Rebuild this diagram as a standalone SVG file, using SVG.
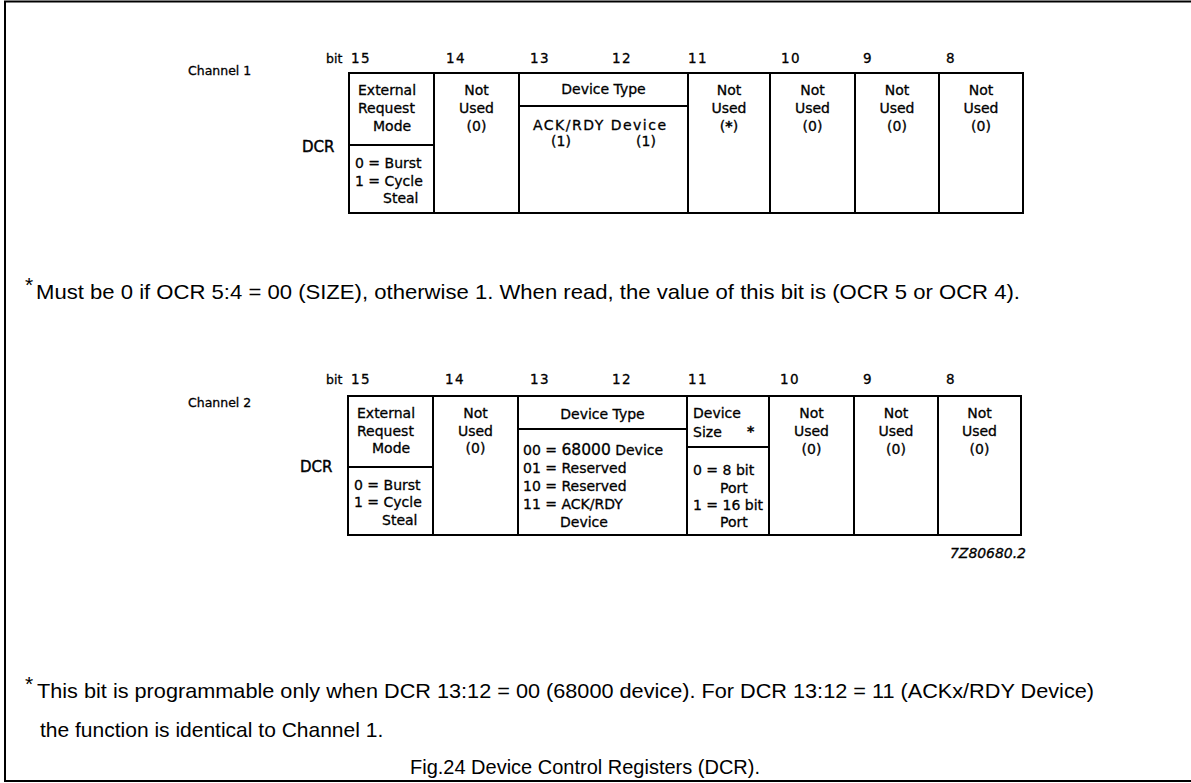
<svg xmlns="http://www.w3.org/2000/svg" width="1191" height="783" viewBox="0 0 1191 783">
<style>
.c{font-family:"DejaVu Sans",sans-serif;font-size:14px;fill:#000;stroke:#000;stroke-width:0.3}
.m{text-anchor:middle}
.bt{font-family:"DejaVu Sans",sans-serif;font-size:13.5px;fill:#000;stroke:#000;stroke-width:0.3;letter-spacing:1.5px}
.lbl{font-family:"DejaVu Sans",sans-serif;font-size:12.5px;fill:#000;stroke:#000;stroke-width:0.3}
.dcr{font-family:"DejaVu Sans",sans-serif;font-size:15px;fill:#000;stroke:#000;stroke-width:0.4}
.fn{font-family:"Liberation Sans",sans-serif;font-size:21px;fill:#000}
.cell{stroke:#000;stroke-width:2;fill:none}
.ln{stroke:#000;stroke-width:2;fill:none}
</style>
<rect width="1191" height="783" fill="#fff"/>
<path class="ln" d="M1192 1.5 H5 V781 H1192"/>

<g id="channel1">
  <text class="lbl" x="188" y="75">Channel 1</text>
  <text class="dcr" x="302" y="152">DCR</text>
  <g id="bits1" class="bt">
    <text x="326" y="63" letter-spacing="0" font-size="12.5">bit</text><text x="351" y="63">15</text><text x="446" y="63">14</text><text x="530" y="63">13</text><text x="612" y="63">12</text><text x="688" y="63">11</text><text x="781" y="63">10</text><text x="863" y="63">9</text><text x="946" y="63">8</text>
  </g>
  <g id="c1-b15">
    <rect class="cell" x="349" y="73" width="85" height="140"/>
    <line class="ln" x1="349" y1="145" x2="434" y2="145"/>
    <text class="c" x="358" y="95">External</text>
    <text class="c" x="358" y="113">Request</text>
    <text class="c" x="373" y="131">Mode</text>
    <text class="c" x="355" y="168">0 = Burst</text>
    <text class="c" x="355" y="186">1 = Cycle</text>
    <text class="c" x="383" y="203">Steal</text>
  </g>
  <g id="c1-b14">
    <rect class="cell" x="434" y="73" width="85" height="140"/>
    <text class="c m" x="476.5" y="95">Not</text><text class="c m" x="476.5" y="113">Used</text><text class="c m" x="476.5" y="131">(0)</text>
  </g>
  <g id="c1-b13-12">
    <rect class="cell" x="519" y="73" width="169" height="140"/>
    <line class="ln" x1="519" y1="106" x2="688" y2="106"/>
    <text class="c m" x="603.5" y="94">Device Type</text>
    <text class="c" x="533" y="130" font-size="14.5" textLength="133">ACK/RDY Device</text>
    <text class="c m" x="561" y="146" font-size="11">(1)</text>
    <text class="c m" x="646" y="146" font-size="11">(1)</text>
  </g>
  <g id="c1-b11">
    <rect class="cell" x="688" y="73" width="82" height="140"/>
    <text class="c m" x="729" y="95">Not</text><text class="c m" x="729" y="113">Used</text><text class="c m" x="729" y="131">(<tspan font-weight="bold">*</tspan>)</text>
  </g>
  <g id="c1-b10">
    <rect class="cell" x="770" y="73" width="85" height="140"/>
    <text class="c m" x="812.5" y="95">Not</text><text class="c m" x="812.5" y="113">Used</text><text class="c m" x="812.5" y="131">(0)</text>
  </g>
  <g id="c1-b9">
    <rect class="cell" x="855" y="73" width="84" height="140"/>
    <text class="c m" x="897" y="95">Not</text><text class="c m" x="897" y="113">Used</text><text class="c m" x="897" y="131">(0)</text>
  </g>
  <g id="c1-b8">
    <rect class="cell" x="939" y="73" width="84" height="140"/>
    <text class="c m" x="981" y="95">Not</text><text class="c m" x="981" y="113">Used</text><text class="c m" x="981" y="131">(0)</text>
  </g>
</g>

<g id="note1">
  <text class="fn" x="25" y="292" font-size="14">*</text>
  <text class="fn" x="36" y="299" textLength="984" lengthAdjust="spacingAndGlyphs">Must be 0 if OCR 5:4 = 00 (SIZE), otherwise 1. When read, the value of this bit is (OCR 5 or OCR 4).</text>
</g>

<g id="channel2">
  <text class="lbl" x="188" y="407">Channel 2</text>
  <text class="dcr" x="300" y="472">DCR</text>
  <g id="bits2" class="bt">
    <text x="326" y="384" letter-spacing="0" font-size="12.5">bit</text><text x="351" y="384">15</text><text x="445" y="384">14</text><text x="530" y="384">13</text><text x="612" y="384">12</text><text x="688" y="384">11</text><text x="780" y="384">10</text><text x="863" y="384">9</text><text x="946" y="384">8</text>
  </g>
  <g id="c2-b15">
    <rect class="cell" x="348" y="396" width="85" height="139"/>
    <line class="ln" x1="348" y1="467" x2="433" y2="467"/>
    <text class="c" x="357" y="418">External</text>
    <text class="c" x="357" y="436">Request</text>
    <text class="c" x="372" y="453">Mode</text>
    <text class="c" x="354" y="490">0 = Burst</text>
    <text class="c" x="354" y="507">1 = Cycle</text>
    <text class="c" x="382" y="525">Steal</text>
  </g>
  <g id="c2-b14">
    <rect class="cell" x="433" y="396" width="85" height="139"/>
    <text class="c m" x="475.5" y="418">Not</text><text class="c m" x="475.5" y="436">Used</text><text class="c m" x="475.5" y="453">(0)</text>
  </g>
  <g id="c2-b13-12">
    <rect class="cell" x="518" y="396" width="169" height="139"/>
    <line class="ln" x1="518" y1="429" x2="687" y2="429"/>
    <text class="c m" x="602.5" y="419">Device Type</text>
    <text class="c" x="523" y="455">00 = <tspan font-size="15.5">68000</tspan> Device</text>
    <text class="c" x="523" y="473">01 = Reserved</text>
    <text class="c" x="523" y="491">10 = Reserved</text>
    <text class="c" x="523" y="509">11 = ACK/RDY</text>
    <text class="c" x="560" y="527">Device</text>
  </g>
  <g id="c2-b11">
    <rect class="cell" x="687" y="396" width="82" height="139"/>
    <line class="ln" x1="687" y1="447" x2="769" y2="447"/>
    <text class="c" x="693" y="418">Device</text>
    <text class="c" x="693" y="437">Size</text>
    <text class="c" x="747" y="436" font-size="18" font-weight="bold">*</text>
    <text class="c" x="693" y="475">0 = 8 bit</text>
    <text class="c" x="720" y="493">Port</text>
    <text class="c" x="693" y="510">1 = 16 bit</text>
    <text class="c" x="720" y="527">Port</text>
  </g>
  <g id="c2-b10">
    <rect class="cell" x="769" y="396" width="85" height="139"/>
    <text class="c m" x="811.5" y="418">Not</text><text class="c m" x="811.5" y="436">Used</text><text class="c m" x="811.5" y="454">(0)</text>
  </g>
  <g id="c2-b9">
    <rect class="cell" x="854" y="396" width="84" height="139"/>
    <text class="c m" x="896" y="418">Not</text><text class="c m" x="896" y="436">Used</text><text class="c m" x="896" y="454">(0)</text>
  </g>
  <g id="c2-b8">
    <rect class="cell" x="938" y="396" width="83" height="139"/>
    <text class="c m" x="979.5" y="418">Not</text><text class="c m" x="979.5" y="436">Used</text><text class="c m" x="979.5" y="454">(0)</text>
  </g>
  <text class="c" x="950" y="558" font-size="11" font-style="italic" stroke-width="0.2" textLength="76">7Z80680.2</text>
</g>

<g id="note2">
  <text class="fn" x="25" y="691" font-size="14">*</text>
  <text class="fn" x="37" y="698" textLength="1057" lengthAdjust="spacingAndGlyphs">This bit is programmable only when DCR 13:12 = 00 (68000 device). For DCR 13:12 = 11 (ACKx/RDY Device)</text>
  <text class="fn" x="40" y="737" font-size="20.5">the function is identical to Channel 1.</text>
</g>

<g id="caption">
  <text class="fn" x="410" y="774" textLength="350" lengthAdjust="spacingAndGlyphs">Fig.24 Device Control Registers (DCR).</text>
</g>
</svg>
